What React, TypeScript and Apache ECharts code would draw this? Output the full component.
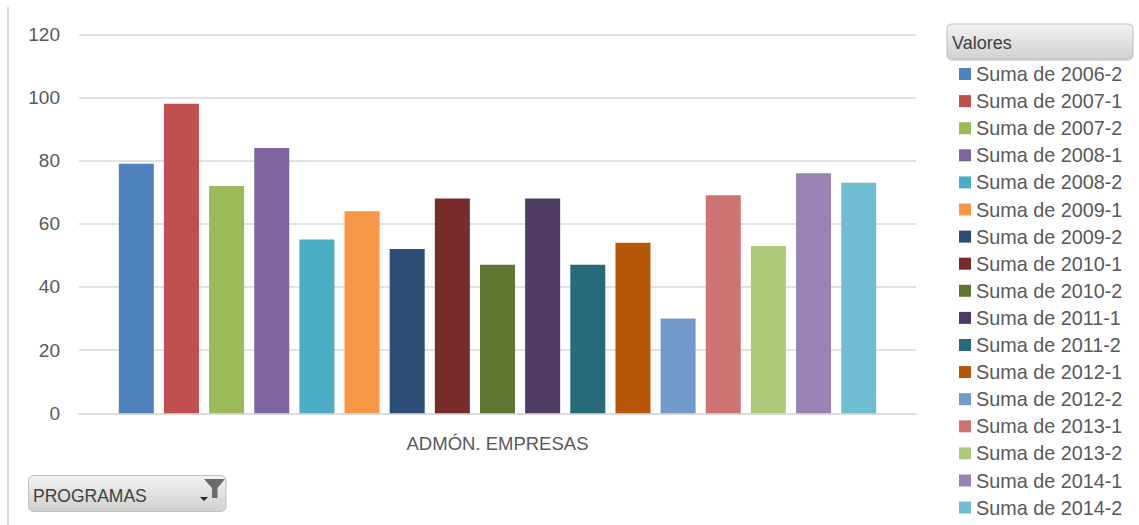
import React, { useEffect, useRef } from "react";
import * as echarts from "echarts";

const categories = ["ADMÓN. EMPRESAS"];
const seriesNames = [
  "Suma de 2006-2", "Suma de 2007-1", "Suma de 2007-2", "Suma de 2008-1",
  "Suma de 2008-2", "Suma de 2009-1", "Suma de 2009-2", "Suma de 2010-1",
  "Suma de 2010-2", "Suma de 2011-1", "Suma de 2011-2", "Suma de 2012-1",
  "Suma de 2012-2", "Suma de 2013-1", "Suma de 2013-2", "Suma de 2014-1",
  "Suma de 2014-2",
];
const values = [79, 98, 72, 84, 55, 64, 52, 68, 47, 68, 47, 54, 30, 69, 53, 76, 73];
const colors = [
  "#4F81BD", "#C0504D", "#9BBB59", "#8064A2", "#4BACC6", "#F79646",
  "#2C4D75", "#772C2A", "#5F7530", "#4D3B62", "#276A7C", "#B65708",
  "#729ACA", "#CD7371", "#AFC97A", "#9983B5", "#6FBDD1",
];
const yTicks = { min: 0, max: 120, interval: 20 };
const legendTitle = "Valores";
const filterLabel = "PROGRAMAS";

const FONT = "'Liberation Sans', Arial, sans-serif";

export default function App() {
  const ref = useRef<HTMLDivElement>(null);
  useEffect(() => {
    if (!ref.current) return;
    const chart = echarts.init(ref.current, undefined, { renderer: "svg" });
    const btnFill = new echarts.graphic.LinearGradient(0, 0, 0, 1, [
      { offset: 0, color: "#F2F2F2" },
      { offset: 1, color: "#D0D0D0" },
    ]);
    const btnFill2 = new echarts.graphic.LinearGradient(0, 0, 0, 1, [
      { offset: 0, color: "#F2F2F2" },
      { offset: 1, color: "#D0D0D0" },
    ]);
    chart.setOption({
      animation: false,
      backgroundColor: "#FFFFFF",
      textStyle: { fontFamily: FONT },
      grid: { left: 79, right: 223, top: 34.3, bottom: 111.7, containLabel: false },
      xAxis: {
        type: "category",
        data: categories,
        axisLine: { show: true, lineStyle: { color: "#D9D9D9", width: 1.5 } },
        axisTick: { show: false },
        axisLabel: { color: "#595959", fontSize: 18.5, margin: 21, fontFamily: FONT },
      },
      yAxis: {
        type: "value",
        min: yTicks.min,
        max: yTicks.max,
        interval: yTicks.interval,
        axisLine: { show: false },
        axisTick: { show: false },
        axisLabel: { color: "#595959", fontSize: 19, margin: 19, fontFamily: FONT },
        splitLine: { lineStyle: { color: "#D9D9D9", width: 1.5 } },
      },
      legend: {
        orient: "vertical",
        left: 959,
        top: 64,
        padding: 0,
        itemWidth: 12,
        itemHeight: 12,
        itemGap: 7.1,
        icon: "rect",
        textStyle: { color: "#595959", fontSize: 19.8, lineHeight: 20, fontFamily: FONT },
        data: seriesNames,
      },
      series: seriesNames.map((name, i) => ({
        name,
        type: "bar",
        data: [values[i]],
        barWidth: 35,
        barGap: "29%",
        itemStyle: { color: colors[i] },
      })),
      graphic: [
        {
          type: "line",
          shape: { x1: 8, y1: 7, x2: 8, y2: 525 },
          style: { stroke: "#D9D9D9", lineWidth: 2 },
        },
        {
          type: "rect",
          shape: { x: 947, y: 24, width: 186, height: 36, r: 5 },
          style: { fill: btnFill, stroke: "#BFBFBF", lineWidth: 1 },
        },
        {
          type: "text",
          x: 952,
          y: 43,
          style: {
            text: legendTitle,
            fill: "#404040",
            font: `18px ${FONT}`,
            verticalAlign: "middle",
          },
        },
        {
          type: "rect",
          shape: { x: 28.5, y: 475.5, width: 197.5, height: 36, r: 5 },
          style: { fill: btnFill2, stroke: "#BFBFBF", lineWidth: 1 },
        },
        {
          type: "text",
          x: 33,
          y: 496,
          style: {
            text: filterLabel,
            fill: "#404040",
            font: `17.5px ${FONT}`,
            verticalAlign: "middle",
          },
        },
        {
          type: "polygon",
          shape: {
            points: [[204, 479], [225, 479], [217.5, 488], [217.5, 498], [212, 498], [212, 488]],
          },
          style: { fill: "#6B6B6B" },
        },
        {
          type: "polygon",
          shape: { points: [[200, 497], [208, 497], [204, 501]] },
          style: { fill: "#262626" },
        },
      ],
    });
    return () => chart.dispose();
  }, []);
  return (
    <div
      ref={ref}
      style={{ position: "absolute", left: 0, top: 0, width: 1139, height: 525 }}
    />
  );
}
